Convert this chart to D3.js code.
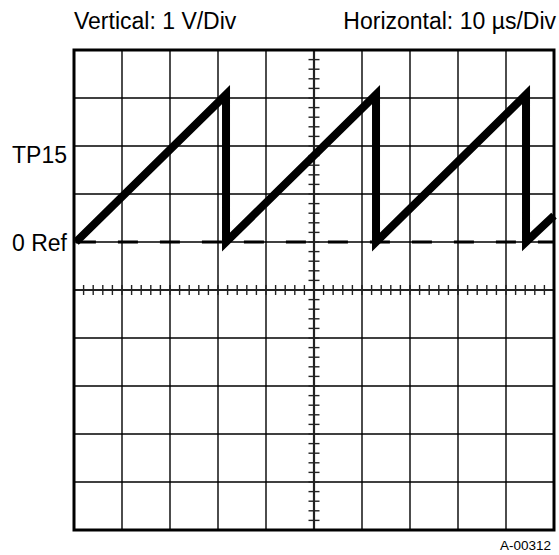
<!DOCTYPE html>
<html>
<head>
<meta charset="utf-8">
<script src="https://cdn.jsdelivr.net/npm/d3@7/dist/d3.min.js"></script>
<style>
  html, body { margin: 0; padding: 0; background: #fff; }
  svg { display: block; font-family: "Liberation Sans", Arial, sans-serif; }
</style>
</head>
<body>
<svg id="scope" width="559" height="555"></svg>
<script>
// Sawtooth trace at TP15: time in microseconds, amplitude in volts
const timeUs = [0.4, 31.67, 31.67, 62.92, 62.92, 94.17, 94.17, 100];
const volts  = [0, 3.07, 0, 3.07, 0, 3.07, 0, 0.55];

// Screen graticule: 10 x 10 divisions, 10 µs and 1 V per division
const timeDomain = [0, 100];
const voltDomain = [-6, 4];
const timeGrid = d3.range(0, 101, 10);
const voltGrid = d3.range(-6, 5, 1);
const minorTime = d3.range(0, 100.01, 2);
const minorVolt = d3.range(-6, 4.01, 0.2);

const labels = {
  vertical: "Vertical: 1 V/Div",
  horizontal: "Horizontal: 10 µs/Div",
  probe: "TP15",
  reference: "0 Ref",
  figureId: "A-00312"
};

const svg = d3.select("#scope");
const plotL = 74, plotR = 554, plotT = 50, plotB = 530;

const x = d3.scaleLinear().domain(timeDomain).range([plotL, plotR]);
const y = d3.scaleLinear().domain(voltDomain).range([plotB, plotT]);

// Major grid lines
const grid = svg.append("g").attr("stroke", "#000").attr("stroke-width", 1.4);
grid.selectAll("line.v").data(timeGrid.slice(1, -1)).join("line")
  .attr("x1", d => x(d)).attr("x2", d => x(d))
  .attr("y1", plotT).attr("y2", plotB);
grid.selectAll("line.h").data(voltGrid.slice(1, -1)).join("line")
  .attr("y1", d => y(d)).attr("y2", d => y(d))
  .attr("x1", plotL).attr("x2", plotR);

// Centre axes with minor ticks
const tMid = 50, vMid = -1;
const axes = svg.append("g").attr("stroke", "#222");
axes.append("line")
  .attr("x1", x(tMid)).attr("x2", x(tMid)).attr("y1", plotT).attr("y2", plotB)
  .attr("stroke-width", 2.2);
axes.append("line")
  .attr("y1", y(vMid)).attr("y2", y(vMid)).attr("x1", plotL).attr("x2", plotR)
  .attr("stroke-width", 2.2);
axes.selectAll("line.tx").data(minorTime).join("line")
  .attr("x1", d => x(d)).attr("x2", d => x(d))
  .attr("y1", y(vMid) - 5).attr("y2", y(vMid) + 5)
  .attr("stroke-width", 1.4);
axes.selectAll("line.ty").data(minorVolt).join("line")
  .attr("y1", d => y(d)).attr("y2", d => y(d))
  .attr("x1", x(tMid) - 5.5).attr("x2", x(tMid) + 5.5)
  .attr("stroke-width", 1.4);

// Dashed 0 V reference
svg.append("line")
  .attr("x1", x(0.4)).attr("x2", plotR)
  .attr("y1", y(0)).attr("y2", y(0))
  .attr("stroke", "#000").attr("stroke-width", 3)
  .attr("stroke-dasharray", "20,22");

// Outer border
svg.append("rect")
  .attr("x", plotL).attr("y", plotT)
  .attr("width", plotR - plotL).attr("height", plotB - plotT)
  .attr("fill", "none").attr("stroke", "#000").attr("stroke-width", 3);

// Trace
const trace = d3.line().x((d, i) => x(timeUs[i])).y((d, i) => y(volts[i]));
svg.append("path")
  .attr("d", trace(volts))
  .attr("fill", "none")
  .attr("stroke", "#000")
  .attr("stroke-width", 8)
  .attr("stroke-linejoin", "miter")
  .attr("stroke-linecap", "butt");

// Text
const text = svg.append("g").attr("fill", "#000");
text.append("text").attr("x", 74).attr("y", 29)
  .attr("font-size", 23).text(labels.vertical);
text.append("text").attr("x", 556).attr("y", 29).attr("text-anchor", "end")
  .attr("font-size", 23).text(labels.horizontal);
text.append("text").attr("x", 67).attr("y", 163).attr("text-anchor", "end")
  .attr("font-size", 23).text(labels.probe);
text.append("text").attr("x", 67).attr("y", 251).attr("text-anchor", "end")
  .attr("font-size", 23).text(labels.reference);
text.append("text").attr("x", 551).attr("y", 550).attr("text-anchor", "end")
  .attr("font-size", 13.5).text(labels.figureId);
</script>
</body>
</html>
